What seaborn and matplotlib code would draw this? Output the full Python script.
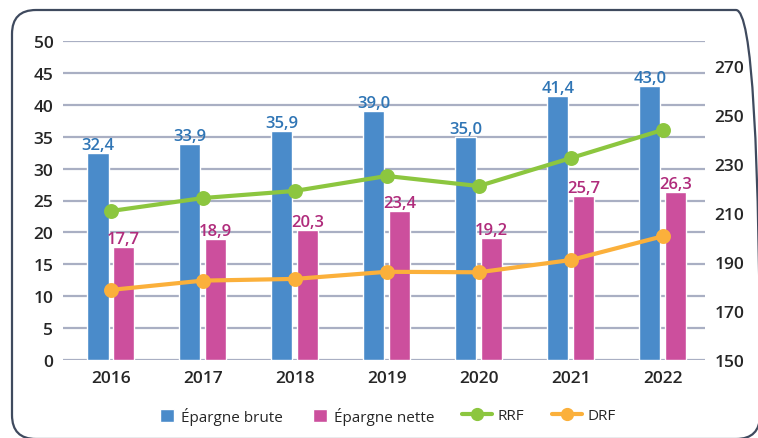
import matplotlib
matplotlib.use("Agg")
import matplotlib.pyplot as plt
import seaborn as sns
import pandas as pd
from matplotlib.patches import FancyBboxPatch, Patch
from matplotlib.lines import Line2D
from matplotlib.transforms import IdentityTransform

years = ["2016", "2017", "2018", "2019", "2020", "2021", "2022"]
epargne_brute = [32.4, 33.9, 35.9, 39.0, 35.0, 41.4, 43.0]
epargne_nette = [17.7, 18.9, 20.3, 23.4, 19.2, 25.7, 26.3]
rrf = [210.8, 216.1, 219.0, 225.1, 221.0, 232.4, 243.9]
drf = [178.6, 182.4, 183.1, 186.0, 185.8, 190.8, 200.5]
series_names = ["Épargne brute", "Épargne nette", "RRF", "DRF"]
left_ticks = [0, 5, 10, 15, 20, 25, 30, 35, 40, 45, 50]
right_ticks = [150, 170, 190, 210, 230, 250, 270]

c_brute = "#4a8bca"
c_nette = "#cc4f9d"
c_brute_txt = "#2f75b5"
c_nette_txt = "#b02c7c"
c_rrf = "#8cc63f"
c_drf = "#fbb03b"
c_grid = "#a9afc3"
c_text = "#262626"

sns.set_theme(style="white")
plt.rcParams["font.family"] = ["Open Sans", "DejaVu Sans"]

W, H = 758, 439
fig = plt.figure(figsize=(W / 100, H / 100), dpi=100)
ax = fig.add_axes([63 / W, 1 - 361 / H, (705 - 63) / W, (361 - 42) / H])

df = pd.DataFrame({
    "year": years * 2,
    "value": epargne_brute + epargne_nette,
    "series": [series_names[0]] * len(years) + [series_names[1]] * len(years),
})
sns.barplot(data=df, x="year", y="value", hue="series", order=years,
            hue_order=series_names[:2], palette=[c_brute, c_nette],
            width=0.56, gap=0.18, saturation=1, legend=False, ax=ax, zorder=2)

for cont, col in zip(ax.containers, [c_brute_txt, c_nette_txt]):
    ax.bar_label(cont, labels=[f"{v:.1f}".replace(".", ",") for v in cont.datavalues],
                 color=col, fontsize=12, fontweight="semibold", padding=0)

ax.set_ylim(0, 50)
ax.set_yticks(left_ticks)
ax.set_xlim(-0.52, 6.46)
ax.yaxis.grid(True, color=c_grid, linewidth=1.6, zorder=0)
ax.set_axisbelow(True)
for s in ax.spines.values():
    s.set_visible(False)
ax.set_xlabel("")
ax.set_ylabel("")
ax.tick_params(axis="both", length=0, labelsize=12.5, labelcolor=c_text)
ax.tick_params(axis="y", pad=7)
ax.tick_params(axis="x", pad=7)
for lab in ax.get_xticklabels() + ax.get_yticklabels():
    lab.set_fontweight("semibold")

ax2 = ax.twinx()
ldf = pd.DataFrame({"year": years, "RRF": rrf, "DRF": drf})
sns.pointplot(data=ldf, x="year", y="RRF", order=years, color=c_rrf, ax=ax2,
              markers="o", markersize=8.5, linewidth=3, errorbar=None)
sns.pointplot(data=ldf, x="year", y="DRF", order=years, color=c_drf, ax=ax2,
              markers="o", markersize=8.5, linewidth=3, errorbar=None)
ax2.set_ylim(150, 280.2)
ax2.set_yticks(right_ticks)
ax2.set_xlim(-0.52, 6.46)
ax2.set_ylabel("")
ax2.set_xlabel("")
for s in ax2.spines.values():
    s.set_visible(False)
ax2.tick_params(axis="y", length=0, labelsize=12.5, labelcolor=c_text, pad=7)
for lab in ax2.get_yticklabels():
    lab.set_fontweight("semibold")
ax2.grid(False)

bar_handles = [Patch(facecolor=c_brute), Patch(facecolor=c_nette)]
line_handles = [
    Line2D([], [], color=c_rrf, lw=3, marker="o", markersize=8.5),
    Line2D([], [], color=c_drf, lw=3, marker="o", markersize=8.5),
]
ly = 1 - 417 / H
leg1 = fig.legend(bar_handles, series_names[:2], loc="center right",
                  bbox_to_anchor=(434 / W, ly), ncol=2, frameon=False, fontsize=11,
                  handlelength=0.92, handleheight=0.92, handletextpad=0.45,
                  columnspacing=1.95, borderpad=0, borderaxespad=0, labelcolor=c_text)
leg2 = fig.legend(line_handles, series_names[2:], loc="center left",
                  bbox_to_anchor=(462 / W, ly), ncol=2, frameon=False, fontsize=11,
                  handlelength=1.96, handletextpad=0.35, columnspacing=1.85,
                  borderpad=0, borderaxespad=0, labelcolor=c_text)

frame = FancyBboxPatch((12, H - 440), 748, 429, boxstyle="round,pad=0,rounding_size=24",
                       transform=IdentityTransform(), facecolor="none",
                       edgecolor="#3f4a5e", linewidth=1.6, zorder=10)
fig.patches.append(frame)

fig.savefig("out.png", dpi=100)
